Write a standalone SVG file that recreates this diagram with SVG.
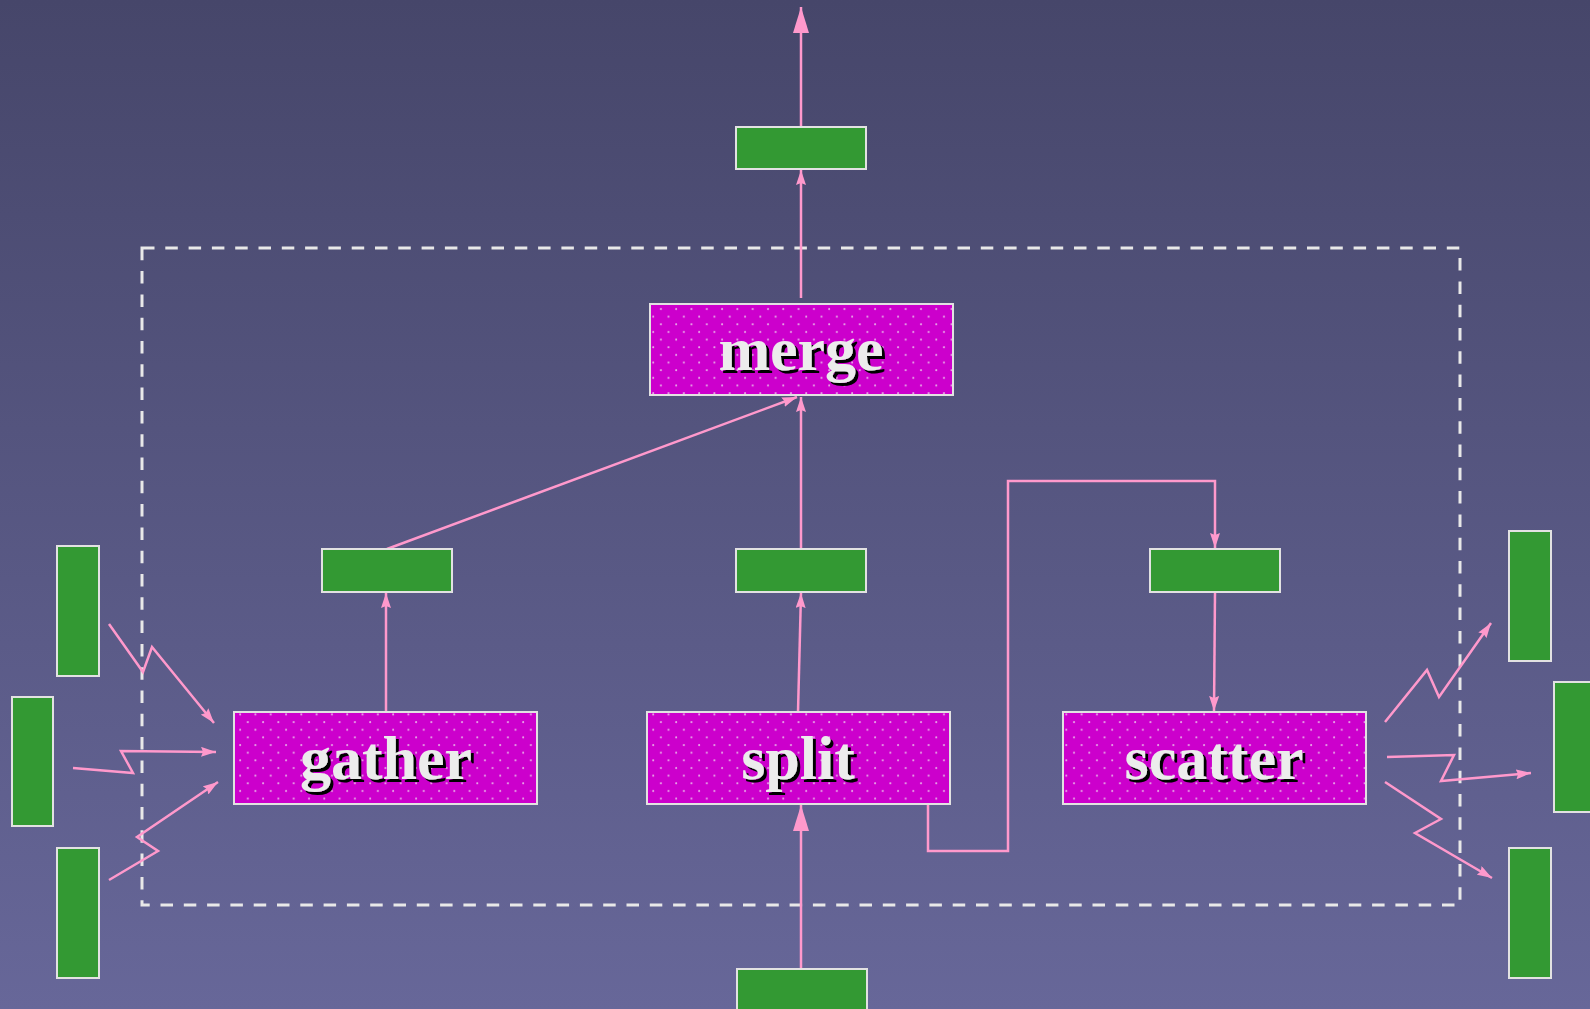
<svg xmlns="http://www.w3.org/2000/svg" width="1590" height="1009" viewBox="0 0 1590 1009">
<style>
.g{fill:#339933;stroke:#e2e2e2;stroke-width:2}
.m{fill:url(#dots);stroke:#e2e2e2;stroke-width:2}
.t{font-family:"Liberation Serif","Times New Roman",serif;font-weight:bold;font-size:62px;fill:#ececec;text-anchor:middle;filter:url(#sh)}
.c{fill:none;stroke:#ff99cc;stroke-width:2.5;marker-end:url(#a)}
.cb{fill:none;stroke:#ff99cc;stroke-width:2.5;marker-end:url(#ab)}
.b{fill:none;stroke:#e8e8e8;stroke-width:3;stroke-dasharray:12.5 10.8}
</style>
<defs>
<linearGradient id="bg" x1="0" y1="0" x2="0" y2="1">
<stop offset="0" stop-color="#46466a"/>
<stop offset="1" stop-color="#676799"/>
</linearGradient>
<pattern id="dots" patternUnits="userSpaceOnUse" width="15.3" height="15.3">
<rect width="15.3" height="15.3" fill="#cc00cc"/>
<circle cx="3" cy="3" r="1" fill="#e8a8e8"/>
<circle cx="10.65" cy="10.65" r="1" fill="#e8a8e8"/>
</pattern>
<filter id="sh" x="-10%" y="-20%" width="130%" height="150%">
<feDropShadow dx="3" dy="3" stdDeviation="0.3" flood-color="#000" flood-opacity="1"/>
</filter>
<marker id="a" markerUnits="userSpaceOnUse" viewBox="0 0 15 10" markerWidth="15" markerHeight="10" refX="15" refY="5" orient="auto">
<path d="M0,0 L15,5 L0,10 L2,5 z" fill="#ff99cc"/>
</marker>
<marker id="ab" markerUnits="userSpaceOnUse" viewBox="0 0 26 16" markerWidth="26" markerHeight="16" refX="26" refY="8" orient="auto">
<path d="M0,0 L26,8 L0,16 z" fill="#ff99cc"/>
</marker>
</defs>
<rect width="1590" height="1009" fill="url(#bg)"/>
<g id="boundary">
<rect class="b" x="142" y="248" width="1318" height="657"/>
</g>
<g id="connectors">
<path class="cb" d="M801,127 L801,7"/>
<path class="c" d="M801,298 L801,170"/>
<path class="c" d="M387,549 L797,397"/>
<path class="c" d="M801,549 L801,397"/>
<path class="c" d="M386,712 L386,593"/>
<path class="c" d="M798,712 L801,593"/>
<path class="c" d="M928,804 L928,851 L1008,851 L1008,481 L1215,481 L1215,548"/>
<path class="c" d="M1215,592 L1214,711"/>
<path class="cb" d="M801,969 L801,805"/>
<path class="c" d="M109,624 L143,672 L152,647 L214,723"/>
<path class="c" d="M73,768 L133,773 L121,751 L216,752"/>
<path class="c" d="M109,880 L158,851 L137,837 L218,782"/>
<path class="c" d="M1385,722 L1427,670 L1439,697 L1491,623"/>
<path class="c" d="M1387,757 L1454,755 L1441,781 L1531,773"/>
<path class="c" d="M1385,782 L1441,819 L1415,833 L1492,878"/>
</g>
<g id="out-top"><rect class="g" x="736" y="127" width="130" height="42"/></g>
<g id="merge"><rect class="m" x="650" y="304" width="303" height="91"/><text class="t" x="801" y="370">merge</text></g>
<g id="buf-gather"><rect class="g" x="322" y="549" width="130" height="43"/></g>
<g id="buf-split"><rect class="g" x="736" y="549" width="130" height="43"/></g>
<g id="buf-scatter"><rect class="g" x="1150" y="549" width="130" height="43"/></g>
<g id="gather"><rect class="m" x="234" y="712" width="303" height="92"/><text class="t" x="386" y="779">gather</text></g>
<g id="split"><rect class="m" x="647" y="712" width="303" height="92"/><text class="t" x="798" y="779">split</text></g>
<g id="scatter"><rect class="m" x="1063" y="712" width="303" height="92"/><text class="t" x="1214" y="779">scatter</text></g>
<g id="in-bottom"><rect class="g" x="737" y="969" width="130" height="60"/></g>
<g id="in-left-1"><rect class="g" x="57" y="546" width="42" height="130"/></g>
<g id="in-left-2"><rect class="g" x="12" y="697" width="41" height="129"/></g>
<g id="in-left-3"><rect class="g" x="57" y="848" width="42" height="130"/></g>
<g id="out-right-1"><rect class="g" x="1509" y="531" width="42" height="130"/></g>
<g id="out-right-2"><rect class="g" x="1554" y="682" width="42" height="130"/></g>
<g id="out-right-3"><rect class="g" x="1509" y="848" width="42" height="130"/></g>
</svg>
